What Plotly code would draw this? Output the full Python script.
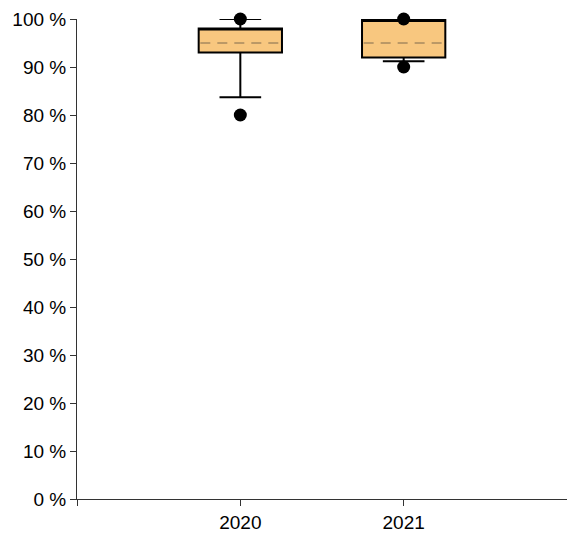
import plotly.graph_objects as go

years = ["2020", "2021"]
q1 = [93, 92]
q3 = [98, 99.8]
lower = [83.7, 91.2]
upper = [100, 100]
centre_line = [95, 95]
points_x = ["2020", "2020", "2021", "2021"]
points_y = [100, 80, 100, 90]

y_ticks = [0, 10, 20, 30, 40, 50, 60, 70, 80, 90, 100]
y_labels = [f"{v} %" for v in y_ticks]

BOX_W = 0.51
pos = {y: i for i, y in enumerate(years)}

fig = go.Figure()
fig.add_trace(go.Box(
    x=[pos[y] for y in years], q1=q1, median=q3, q3=q3,
    lowerfence=lower, upperfence=upper,
    boxpoints=False, width=BOX_W, whiskerwidth=0.5,
    fillcolor="#F8C77F", line=dict(color="#000000", width=2),
    hoverinfo="skip", showlegend=False,
))
for i, y in enumerate(years):
    c = pos[y]
    fig.add_trace(go.Scatter(
        x=[c - BOX_W / 2 + 0.01, c + BOX_W / 2 - 0.01],
        y=[centre_line[i], centre_line[i]],
        mode="lines", line=dict(color="#7E6A4E", width=1, dash="10px,7px"),
        showlegend=False, hoverinfo="skip",
    ))
fig.add_trace(go.Scatter(
    x=[pos[p] for p in points_x], y=points_y, mode="markers",
    marker=dict(color="#000000", size=13), cliponaxis=False,
    showlegend=False, hoverinfo="skip",
))

fig.update_layout(
    width=567, height=533,
    margin=dict(l=77, r=0, t=19, b=34),
    plot_bgcolor="white", paper_bgcolor="white",
    font=dict(family="Liberation Sans, Arial, sans-serif", size=19, color="#000000"),
    hovermode=False,
    xaxis=dict(
        range=[-1, 2], tickvals=[-1] + [pos[y] for y in years], ticktext=[""] + years,
        showgrid=False, zeroline=False, showline=True, linecolor="#333333", linewidth=1,
        ticks="outside", ticklen=6, tickcolor="#333333",
    ),
    yaxis=dict(
        range=[0, 100], tickvals=y_ticks, ticktext=y_labels,
        showgrid=False, zeroline=False, showline=True, linecolor="#333333", linewidth=1,
        ticks="outside", ticklen=6, tickcolor="#333333",
    ),
)

fig.write_html(
    "out.html",
    config={"displayModeBar": False, "staticPlot": True},
    post_script="document.body.style.margin='0';document.body.style.overflow='hidden';",
)
